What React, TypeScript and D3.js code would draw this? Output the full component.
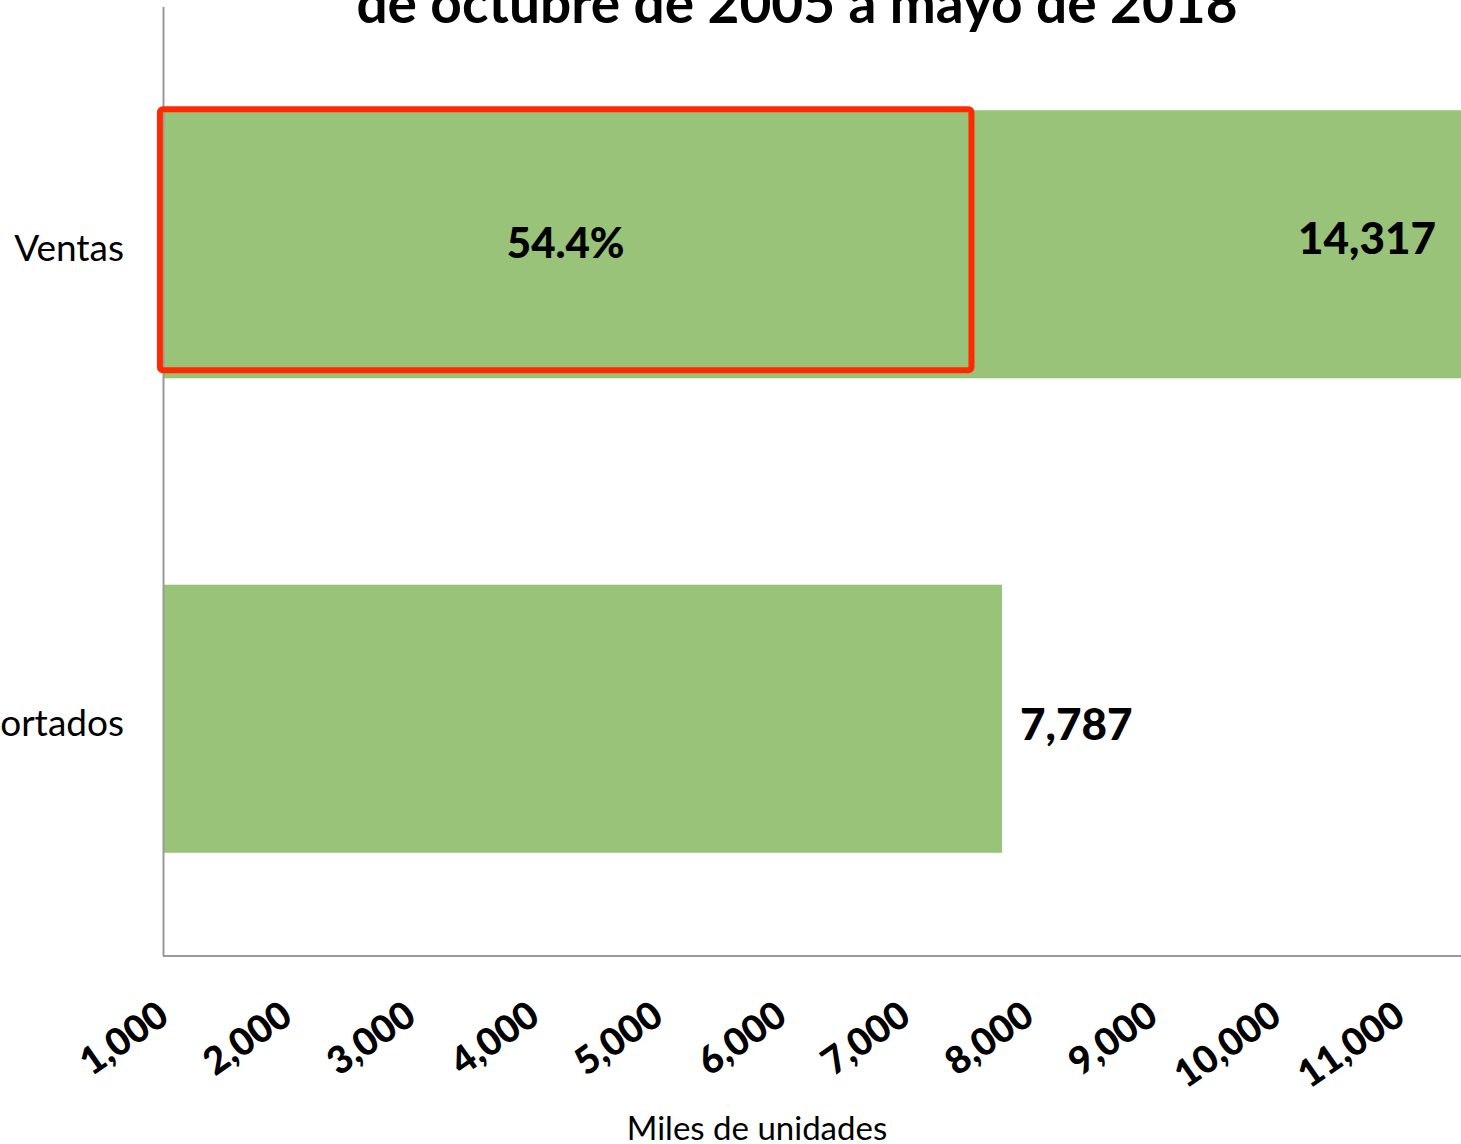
import React from "react";
import * as d3 from "d3";

const categories = ["Ventas", "Importados"];
const values = [14317, 7787];
const valueLabels = ["14,317", "7,787"];
const tickValues = [1000, 2000, 3000, 4000, 5000, 6000, 7000, 8000, 9000, 10000, 11000];
const axisDomain = [1000, 11500];
const annotationRange = [975, 7540];
const annotationLabel = "54.4%";
const titleText = "de octubre de 2005 a mayo de 2018";
const axisTitle = "Miles de unidades";

const W = 1461;
const H = 1144;
const FONT = "Lato, 'Open Sans', sans-serif";

export default function App() {
  const x = d3.scaleLinear().domain(axisDomain).range([163, 1461]);
  const y = d3
    .scaleBand<string>()
    .domain(categories)
    .range([7, 956])
    .paddingInner(0.435)
    .paddingOuter(0.2175);
  const fmt = d3.format(",");
  const bw = y.bandwidth();
  const plotRight = x(axisDomain[1]);
  const labelDy = [10, 21];

  return (
    <svg
      width={W}
      height={H}
      style={{ position: "absolute", left: 0, top: 0, background: "#fff" }}
      fontFamily={FONT}
    >
      <defs>
        <clipPath id="plotClip">
          <rect x={163} y={0} width={plotRight - 163} height={956} />
        </clipPath>
      </defs>

      {/* title (cropped at top) */}
      <text x={797} y={23} textAnchor="middle" fontSize={55} fontWeight={700} fill="#000">
        {titleText}
      </text>

      {/* bars */}
      <g clipPath="url(#plotClip)">
        {categories.map((c, i) => (
          <rect
            key={c}
            x={x(axisDomain[0])}
            y={y(c)}
            width={x(values[i]) - x(axisDomain[0])}
            height={bw}
            fill="#98c378"
          />
        ))}
      </g>

      {/* axes */}
      <line x1={163.5} x2={163.5} y1={7} y2={956} stroke="#999" strokeWidth={2} />
      <line x1={163} x2={W} y1={956} y2={956} stroke="#999" strokeWidth={2} />

      {/* category labels */}
      {categories.map((c) => (
        <text
          key={c}
          x={124}
          y={(y(c) as number) + bw / 2 + 17}
          textAnchor="end"
          fontSize={37}
          fill="#000"
        >
          {c}
        </text>
      ))}

      {/* value labels */}
      {categories.map((c, i) => {
        const end = x(values[i]);
        const clipped = end > plotRight;
        const lx = clipped ? plotRight - 25 : end + 18;
        return (
          <text
            key={c}
            x={lx}
            y={(y(c) as number) + bw / 2 + labelDy[i]}
            textAnchor={clipped ? "end" : "start"}
            fontSize={44}
            fontWeight={900}
            fill="#000"
          >
            {valueLabels[i]}
          </text>
        );
      })}

      {/* annotation box */}
      <rect
        x={x(annotationRange[0])}
        y={(y(categories[0]) as number) - 1}
        width={x(annotationRange[1]) - x(annotationRange[0])}
        height={bw - 7}
        fill="none"
        stroke="#ff2a00"
        strokeWidth={6}
        rx={3}
      />
      <text
        x={(x(annotationRange[0]) + x(annotationRange[1])) / 2}
        y={(y(categories[0]) as number) + bw / 2 + 14}
        textAnchor="middle"
        fontSize={42}
        fontWeight={900}
        fill="#000"
      >
        {annotationLabel}
      </text>

      {/* x tick labels */}
      {tickValues.map((t) => (
        <text
          key={t}
          transform={`translate(${x(t) + 8},1021) rotate(-35)`}
          textAnchor="end"
          fontSize={38}
          fontWeight={900}
          fill="#000"
        >
          {fmt(t)}
        </text>
      ))}

      {/* axis title */}
      <text x={757} y={1140} textAnchor="middle" fontSize={33} fill="#000">
        {axisTitle}
      </text>
    </svg>
  );
}
